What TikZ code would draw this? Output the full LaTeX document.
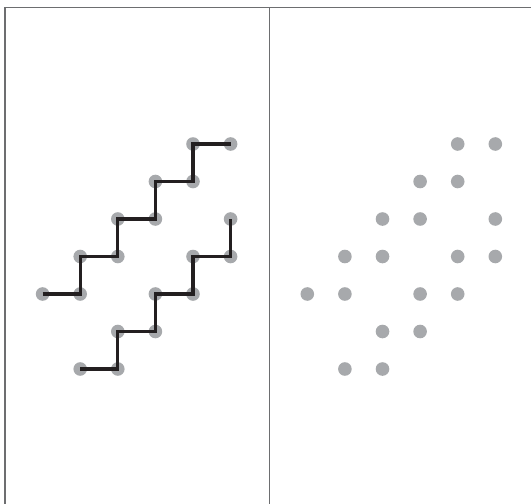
\documentclass[tikz,border=0pt]{standalone}
\begin{document}
\begin{tikzpicture}[x=1pt,y=-1pt,
  dotnode/.style={circle,fill=dotgray,draw=none,minimum size=13.6pt,inner sep=0pt},
  stair/.style={line width=3.3pt,draw=stairblack,line join=miter},
  frame/.style={line width=1.3pt,draw=framegray}]
\definecolor{dotgray}{HTML}{A7A9AC}
\definecolor{stairblack}{HTML}{231F20}
\definecolor{framegray}{HTML}{6D6E70}
\useasboundingbox (0,0) rectangle (531,504);
\fill[white] (0,0) rectangle (531,504);
% frame
\coordinate (fbl) at (5,504);
\coordinate (ftl) at (5,7.5);
\coordinate (ftr) at (531,7.5);
\coordinate (mt) at (269.3,7.5);
\coordinate (mb) at (269.3,504);
\draw[frame] (fbl) -- (ftl) -- (ftr);
\draw[frame] (mt) -- (mb);
% dots
\foreach \i/\j in {4/0,5/0,3/1,4/1,2/2,3/2,5/2,1/3,2/3,4/3,5/3,0/4,1/4,3/4,4/4,2/5,3/5,1/6,2/6}{
  \node[dotnode] (L-\i-\j) at ({42.6+37.6*\i},{144+37.5*\j}) {};
  \node[dotnode] (R-\i-\j) at ({307.3+37.6*\i},{144+37.5*\j}) {};
}
% stairs
\draw[stair] (L-0-4.center) -- (L-1-4.center) -- (L-1-3.center) -- (L-2-3.center) -- (L-2-2.center) -- (L-3-2.center) -- (L-3-1.center) -- (L-4-1.center) -- (L-4-0.center) -- (L-5-0.center);
\draw[stair] (L-1-6.center) -- (L-2-6.center) -- (L-2-5.center) -- (L-3-5.center) -- (L-3-4.center) -- (L-4-4.center) -- (L-4-3.center) -- (L-5-3.center) -- (L-5-2.center);
\end{tikzpicture}
\end{document}
